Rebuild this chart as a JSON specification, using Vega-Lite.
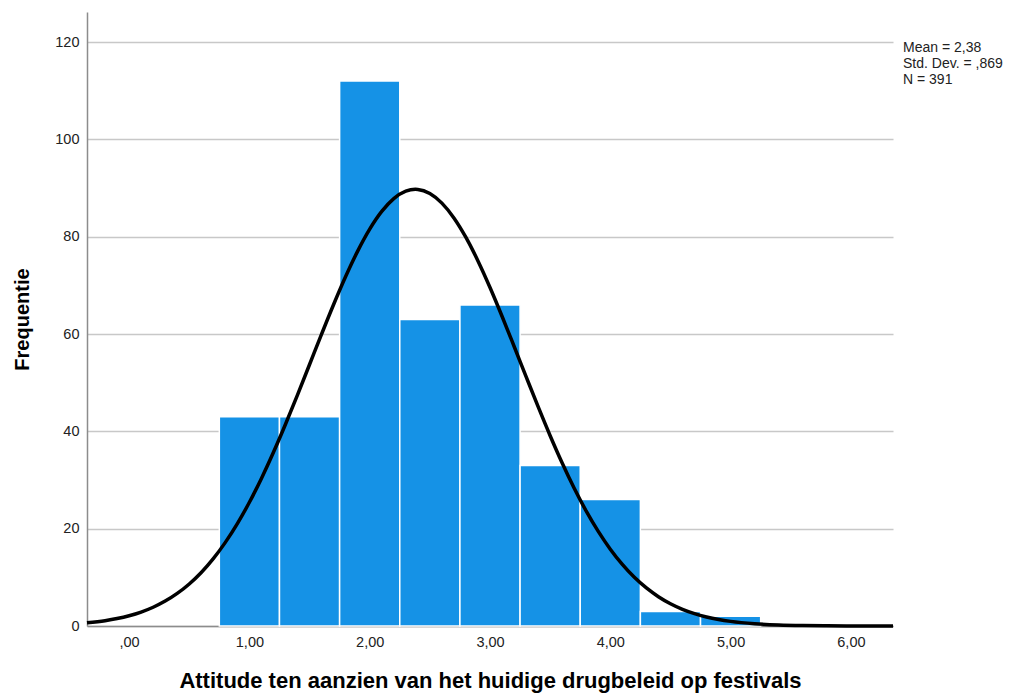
{
  "$schema": "https://vega.github.io/schema/vega-lite/v6.json",
  "autosize": {"type": "none"},
  "width": 806,
  "height": 614,
  "padding": {"left": 87, "top": 12, "right": 123, "bottom": 72},
  "background": "#ffffff",
  "config": {
    "view": {"stroke": null},
    "font": "Liberation Sans",
    "axis": {"labelFont": "Liberation Sans", "titleFont": "Liberation Sans", "labelColor": "#222222", "titleColor": "#000000"}
  },
  "datasets": {
    "bins": [
      {"bin_start": 0.75, "bin_end": 1.25, "count": 43},
      {"bin_start": 1.25, "bin_end": 1.75, "count": 43},
      {"bin_start": 1.75, "bin_end": 2.25, "count": 112},
      {"bin_start": 2.25, "bin_end": 2.75, "count": 63},
      {"bin_start": 2.75, "bin_end": 3.25, "count": 66},
      {"bin_start": 3.25, "bin_end": 3.75, "count": 33},
      {"bin_start": 3.75, "bin_end": 4.25, "count": 26},
      {"bin_start": 4.25, "bin_end": 4.75, "count": 3},
      {"bin_start": 4.75, "bin_end": 5.25, "count": 2}
    ],
    "curve": [
      {"x": -0.35, "y": 0.646}, {"x": -0.2, "y": 1.095}, {"x": -0.1, "y": 1.53},
      {"x": 0.0, "y": 2.109}, {"x": 0.1, "y": 2.871}, {"x": 0.2, "y": 3.858},
      {"x": 0.3, "y": 5.117}, {"x": 0.4, "y": 6.694}, {"x": 0.5, "y": 8.642},
      {"x": 0.6, "y": 11.01}, {"x": 0.7, "y": 13.85}, {"x": 0.8, "y": 17.19},
      {"x": 0.9, "y": 21.05}, {"x": 1.0, "y": 25.43}, {"x": 1.1, "y": 30.33},
      {"x": 1.2, "y": 35.7}, {"x": 1.3, "y": 41.46}, {"x": 1.4, "y": 47.52},
      {"x": 1.5, "y": 53.75}, {"x": 1.6, "y": 59.99}, {"x": 1.7, "y": 66.08},
      {"x": 1.8, "y": 71.83}, {"x": 1.9, "y": 77.05}, {"x": 2.0, "y": 81.57},
      {"x": 2.1, "y": 85.21}, {"x": 2.2, "y": 87.85}, {"x": 2.3, "y": 89.37},
      {"x": 2.38, "y": 89.75}, {"x": 2.4, "y": 89.73}, {"x": 2.5, "y": 88.9},
      {"x": 2.6, "y": 86.92}, {"x": 2.7, "y": 83.87}, {"x": 2.8, "y": 79.86},
      {"x": 2.9, "y": 75.04}, {"x": 3.0, "y": 69.58}, {"x": 3.1, "y": 63.67},
      {"x": 3.2, "y": 57.5}, {"x": 3.3, "y": 51.25}, {"x": 3.4, "y": 45.07},
      {"x": 3.5, "y": 39.11}, {"x": 3.6, "y": 33.5}, {"x": 3.7, "y": 28.31},
      {"x": 3.8, "y": 23.61}, {"x": 3.9, "y": 19.44}, {"x": 4.0, "y": 15.79},
      {"x": 4.1, "y": 12.66}, {"x": 4.2, "y": 10.01}, {"x": 4.3, "y": 7.817},
      {"x": 4.4, "y": 6.023}, {"x": 4.5, "y": 4.577}, {"x": 4.6, "y": 3.436},
      {"x": 4.7, "y": 2.543}, {"x": 4.8, "y": 1.858}, {"x": 4.9, "y": 1.34},
      {"x": 5.0, "y": 0.953}, {"x": 5.2, "y": 0.464}, {"x": 5.4, "y": 0.214},
      {"x": 5.6, "y": 0.094}, {"x": 5.8, "y": 0.039}, {"x": 6.0, "y": 0.015},
      {"x": 6.35, "y": 0.002}
    ],
    "stats": [
      {"label": "Mean = 2,38\nStd. Dev. = ,869\nN = 391", "x": 6.35, "y": 120.2}
    ]
  },
  "layer": [
    {
      "data": {"name": "bins"},
      "mark": {"type": "bar", "color": "#1592e6", "stroke": "#ffffff", "strokeWidth": 1.5},
      "encoding": {
        "x": {
          "field": "bin_start", "type": "quantitative",
          "scale": {"domain": [-0.35, 6.35], "nice": false, "zero": false},
          "axis": {
            "title": "Attitude ten aanzien van het huidige drugbeleid op festivals",
            "values": [0, 1, 2, 3, 4, 5, 6],
            "labelExpr": "datum.value == 0 ? ',00' : replace(format(datum.value, '.2f'), '.', ',')",
            "grid": false, "ticks": false, "domainColor": "#8c8c8c", "domainWidth": 1.5,
            "labelFontSize": 14.5, "labelPadding": 9,
            "titleFontSize": 22, "titleFontWeight": "bold", "titlePadding": 22
          }
        },
        "x2": {"field": "bin_end"},
        "y": {
          "field": "count", "type": "quantitative",
          "scale": {"domain": [0, 126.2], "nice": false, "zero": true},
          "axis": {
            "title": "Frequentie",
            "values": [0, 20, 40, 60, 80, 100, 120],
            "grid": true, "gridColor": "#c8c8c8", "gridWidth": 1.5,
            "ticks": false, "domainColor": "#8c8c8c", "domainWidth": 1.5,
            "labelFontSize": 14.5, "labelPadding": 8,
            "titleFontSize": 20, "titleFontWeight": "bold", "titlePadding": 22
          }
        },
        "y2": {"datum": 0}
      }
    },
    {
      "data": {"name": "curve"},
      "mark": {"type": "line", "color": "#000000", "strokeWidth": 3.5, "interpolate": "monotone", "clip": false},
      "encoding": {
        "x": {"field": "x", "type": "quantitative"},
        "y": {"field": "y", "type": "quantitative"}
      }
    },
    {
      "data": {"name": "stats"},
      "mark": {"type": "text", "align": "left", "baseline": "top", "fontSize": 14, "lineHeight": 16, "lineBreak": "\n", "dx": 10, "clip": false, "font": "Liberation Sans", "color": "#222222"},
      "encoding": {
        "x": {"field": "x", "type": "quantitative"},
        "y": {"field": "y", "type": "quantitative"},
        "text": {"field": "label"}
      }
    }
  ]
}
